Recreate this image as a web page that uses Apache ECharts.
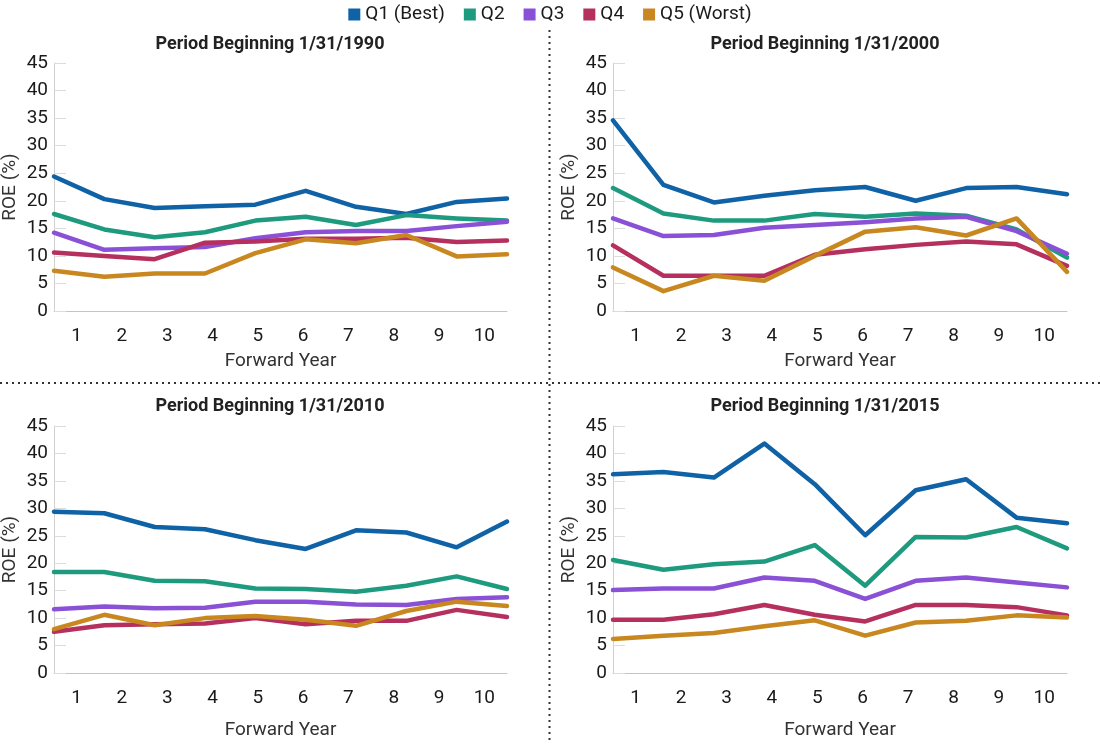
<!DOCTYPE html>
<html>
<head>
<meta charset="utf-8">
<script src="https://cdn.jsdelivr.net/npm/echarts@6/dist/echarts.min.js"></script>
<style>
  html, body { margin: 0; padding: 0; background: #fff; }
  #chart { width: 1100px; height: 744px; }
</style>
</head>
<body>
<div id="chart"></div>
<script>
// ---- Data ----
const forwardYears = ['1', '2', '3', '4', '5', '6', '7', '8', '9', '10'];
const seriesNames = ['Q1 (Best)', 'Q2', 'Q3', 'Q4', 'Q5 (Worst)'];
const panelTitles = [
  'Period Beginning 1/31/1990',
  'Period Beginning 1/31/2000',
  'Period Beginning 1/31/2010',
  'Period Beginning 1/31/2015'
];

// Period 1990
const p1990_Q1 = [24.4, 20.3, 18.7, 19.0, 19.3, 21.8, 18.9, 17.6, 19.8, 20.4];
const p1990_Q2 = [17.6, 14.8, 13.4, 14.3, 16.4, 17.1, 15.6, 17.4, 16.8, 16.4];
const p1990_Q3 = [14.2, 11.1, 11.4, 11.6, 13.2, 14.3, 14.5, 14.5, 15.4, 16.2];
const p1990_Q4 = [10.6, 10.0, 9.4, 12.4, 12.6, 13.1, 13.1, 13.3, 12.5, 12.8];
const p1990_Q5 = [7.3, 6.2, 6.8, 6.8, 10.5, 13.0, 12.3, 13.8, 9.9, 10.3];

// Period 2000
const p2000_Q1 = [34.6, 22.9, 19.7, 20.9, 21.9, 22.5, 20.0, 22.3, 22.5, 21.2];
const p2000_Q2 = [22.3, 17.7, 16.4, 16.4, 17.6, 17.1, 17.7, 17.3, 14.8, 9.7];
const p2000_Q3 = [16.8, 13.6, 13.8, 15.1, 15.6, 16.1, 16.8, 17.1, 14.5, 10.4];
const p2000_Q4 = [11.9, 6.4, 6.4, 6.4, 10.2, 11.2, 12.0, 12.6, 12.1, 8.2];
const p2000_Q5 = [7.9, 3.6, 6.4, 5.5, 10.0, 14.4, 15.2, 13.7, 16.8, 7.1];

// Period 2010
const p2010_Q1 = [29.4, 29.1, 26.6, 26.2, 24.2, 22.6, 26.0, 25.6, 22.9, 27.6];
const p2010_Q2 = [18.4, 18.4, 16.8, 16.7, 15.4, 15.3, 14.8, 15.9, 17.6, 15.3];
const p2010_Q3 = [11.6, 12.1, 11.8, 11.9, 13.0, 13.0, 12.5, 12.4, 13.5, 13.8];
const p2010_Q4 = [7.5, 8.7, 8.9, 9.0, 10.0, 8.9, 9.5, 9.5, 11.5, 10.2];
const p2010_Q5 = [8.0, 10.6, 8.7, 10.0, 10.4, 9.7, 8.6, 11.3, 13.0, 12.2];

// Period 2015
const p2015_Q1 = [36.2, 36.6, 35.6, 41.8, 34.4, 25.1, 33.3, 35.3, 28.3, 27.3];
const p2015_Q2 = [20.6, 18.8, 19.8, 20.3, 23.3, 15.9, 24.8, 24.7, 26.6, 22.7];
const p2015_Q3 = [15.1, 15.4, 15.4, 17.4, 16.8, 13.5, 16.8, 17.4, 16.5, 15.6];
const p2015_Q4 = [9.7, 9.7, 10.7, 12.4, 10.6, 9.4, 12.4, 12.4, 12.0, 10.5];
const p2015_Q5 = [6.2, 6.8, 7.3, 8.5, 9.6, 6.8, 9.2, 9.5, 10.5, 10.1];

const yTicks = [0, 5, 10, 15, 20, 25, 30, 35, 40, 45];

const panels = [
  [p1990_Q1, p1990_Q2, p1990_Q3, p1990_Q4, p1990_Q5],
  [p2000_Q1, p2000_Q2, p2000_Q3, p2000_Q4, p2000_Q5],
  [p2010_Q1, p2010_Q2, p2010_Q3, p2010_Q4, p2010_Q5],
  [p2015_Q1, p2015_Q2, p2015_Q3, p2015_Q4, p2015_Q5]
];

// ---- Styling / layout ----
const colors = ['#0F62A6', '#1E9A7E', '#8A50D6', '#B5305E', '#C8871F'];
const gridPos = [
  { left: 53, top: 63, width: 454, height: 248 },
  { left: 613, top: 63, width: 454, height: 248 },
  { left: 53, top: 426, width: 454, height: 247 },
  { left: 613, top: 426, width: 454, height: 247 }
];
const titlePos = [
  { left: 265, top: 30 },
  { left: 820, top: 30 },
  { left: 265, top: 392 },
  { left: 820, top: 392 }
];
const xNameGaps = [41, 41, 48, 48];
const FONT = 'Roboto, "Noto Sans", sans-serif';
const TXT = '#1a1a1a';

const grids = [], xAxes = [], yAxes = [], series = [], titles = [];
panels.forEach((panel, i) => {
  grids.push(Object.assign({ containLabel: false }, gridPos[i]));
  titles.push({
    text: panelTitles[i],
    left: titlePos[i].left,
    top: titlePos[i].top,
    textAlign: 'center',
    textStyle: { fontFamily: FONT, fontSize: 18, fontWeight: 'bold', color: '#222' }
  });
  // hidden value axis for data positions (points edge to edge)
  xAxes.push({
    type: 'value', gridIndex: i, min: 0, max: forwardYears.length - 1,
    show: false
  });
  // visible category axis for the labels
  xAxes.push({
    type: 'category', gridIndex: i, data: forwardYears, boundaryGap: true,
    position: 'bottom',
    axisLine: { show: true, lineStyle: { color: '#c4c4c4', width: 1 } },
    axisTick: { show: false },
    axisLabel: { fontFamily: FONT, fontSize: 19, color: TXT, margin: 16 },
    splitLine: { show: false },
    name: 'Forward Year', nameLocation: 'middle', nameGap: xNameGaps[i],
    nameTextStyle: { fontFamily: FONT, fontSize: 19, color: '#333' }
  });
  yAxes.push({
    type: 'value', gridIndex: i, min: yTicks[0], max: yTicks[yTicks.length - 1], interval: 5,
    axisLine: { show: true, lineStyle: { color: '#d0d0d0', width: 1 } },
    axisTick: { show: true, inside: true, length: 12, lineStyle: { color: '#dcdcdc' } },
    axisLabel: { fontFamily: FONT, fontSize: 19, color: TXT, margin: 6 },
    splitLine: { show: false },
    name: 'ROE (%)', nameLocation: 'middle', nameGap: 34,
    nameTextStyle: { fontFamily: FONT, fontSize: 19, color: '#333' }
  });
  panel.forEach((vals, k) => {
    series.push({
      name: seriesNames[k],
      type: 'line',
      xAxisIndex: i * 2,
      yAxisIndex: i,
      data: vals.map((v, idx) => [idx, v]),
      showSymbol: false,
      symbol: 'none',
      lineStyle: { width: 4.5, color: colors[k], join: 'round', cap: 'round' },
      itemStyle: { color: colors[k] },
      emphasis: { disabled: true },
      animation: false,
      z: 2 + k
    });
  });
});

const chart = echarts.init(document.getElementById('chart'), null, { renderer: 'canvas' });
chart.setOption({
  backgroundColor: '#fff',
  color: colors,
  animation: false,
  title: titles,
  legend: {
    data: seriesNames,
    top: 0,
    left: 'center',
    icon: 'rect',
    itemWidth: 12,
    itemHeight: 12,
    itemGap: 19,
    textStyle: { fontFamily: FONT, fontSize: 19, color: TXT }
  },
  grid: grids,
  xAxis: xAxes,
  yAxis: yAxes,
  series: series,
  graphic: [
    {
      type: 'line', silent: true,
      shape: { x1: 549.5, y1: 30, x2: 549.5, y2: 744 },
      style: { stroke: '#333', lineWidth: 2, lineDash: [2, 4] }
    },
    {
      type: 'line', silent: true,
      shape: { x1: 0, y1: 383, x2: 1100, y2: 383 },
      style: { stroke: '#333', lineWidth: 2, lineDash: [2, 4] }
    }
  ]
});
</script>
</body>
</html>
